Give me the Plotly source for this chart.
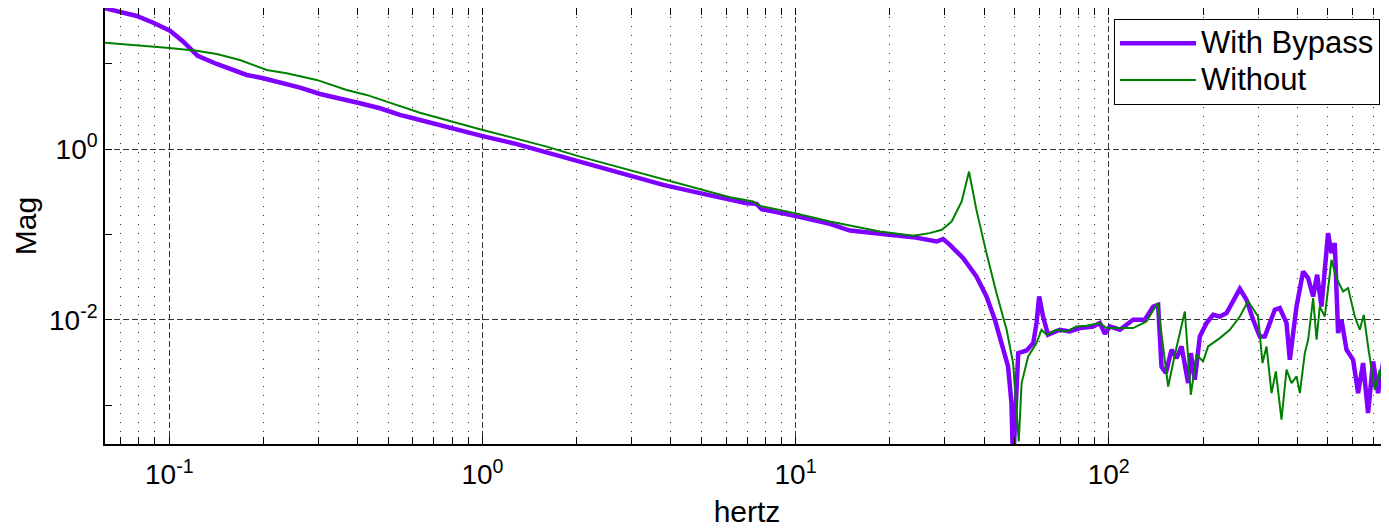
import plotly.graph_objects as go

# ---------------- data ----------------
bypass_freq = [0.0623, 0.0696, 0.0787, 0.0889, 0.1005, 0.1109, 0.1232, 0.1417, 0.1767, 0.1996,
               0.2312, 0.2615, 0.3029, 0.3508, 0.4064, 0.4707, 0.5452, 0.6015, 0.807, 0.994,
               1.254, 1.603, 2.0, 2.616, 3.78, 4.95, 6.98, 7.51, 7.79, 9.95,
               12.87, 14.91, 18.58, 23.74, 28.2, 29.6, 31.1, 34.3, 37.8, 40.7,
               43.3, 45.5, 47.7, 48.9, 49.5, 51.4, 54.7, 57.4, 58.8, 59.95,
               61.7, 64.0, 69.8, 75.1, 80.9, 89.2, 93.7, 97.2, 100.8, 108.5,
               119.7, 130.4, 138.7, 143.8, 147.4, 152.2, 158.7, 164.6, 170.8, 179.3,
               182.9, 188.3, 195.4, 205.3, 215.4, 226.3, 237.8, 262.2, 275.4, 289.1,
               303.7, 315, 326.9, 339.1, 351.8, 369.6, 378.7, 397.8, 417.6, 433.3,
               449.5, 463, 478, 501.7, 514.4, 527, 540, 553.7, 574.5, 603,
               625.6, 649, 673.2, 698.6, 724.6, 751.7, 778.2]
bypass_mag = [44.9, 40.9, 36.5, 30.4, 24.5, 18.2, 12.4, 9.99, 7.42, 6.79,
              5.93, 5.27, 4.44, 3.96, 3.46, 3.02, 2.52, 2.31, 1.716, 1.432,
              1.176, 0.912, 0.716, 0.546, 0.382, 0.305, 0.233, 0.2286, 0.198, 0.1654,
              0.1333, 0.1112, 0.1037, 0.0931, 0.0827, 0.0882, 0.0756, 0.0528, 0.0322, 0.01875,
              0.0100, 0.00533, 0.00284, 0.00106, 0.0002, 0.00407, 0.00437, 0.00533, 0.00915, 0.01875,
              0.01093, 0.00667, 0.00764, 0.00729, 0.00799, 0.00835, 0.00915, 0.00685, 0.00835, 0.00764,
              0.0100, 0.0100, 0.01431, 0.01499, 0.00284, 0.00237, 0.00445, 0.00356, 0.00487, 0.00181,
              0.00407, 0.00198, 0.00637, 0.00915, 0.01144, 0.01093, 0.01198, 0.02307, 0.01715, 0.0100,
              0.00637, 0.00637, 0.00955, 0.0131, 0.0137, 0.00915, 0.0034, 0.01431, 0.0368, 0.0308,
              0.01875, 0.0337, 0.01431, 0.1037, 0.0605, 0.0792, 0.00699, 0.0100, 0.00445, 0.0034,
              0.00138, 0.00311, 0.000807, 0.00325, 0.00138, 0.00311, 0.00356]

without_freq = [0.0623, 0.0768, 0.0981, 0.1223, 0.1417, 0.1681, 0.2046, 0.2370, 0.2955, 0.3685,
                0.4268, 0.4944, 0.6315, 0.9817, 1.254, 1.603, 2.048, 2.958, 4.27, 6.17,
                7.32, 7.69, 9.95, 12.87, 18.58, 23.74, 26.8, 29.3, 31.5, 33.9,
                35.8, 37.8, 40.7, 43.8, 47.2, 49.5, 51.6, 52.7, 55.3, 58.8,
                61.0, 63.3, 68.1, 73.3, 78.9, 84.9, 93.7, 98.4, 108.5, 119.7,
                132.0, 143.2, 154.8, 162.6, 175.0, 182.9, 190.7, 200.1, 207.7, 226.3,
                243.6, 262.2, 278.7, 299.9, 309.8, 319, 331.1, 341.7, 356.2, 369.6,
                383.5, 397.8, 407.6, 422.8, 433.3, 449.5, 461, 472, 489.8, 514.4,
                533.7, 560.3, 581.3, 610.7, 633.4, 652.3, 673.2, 707.4, 733.9, 761.2, 778.2]
without_mag = [17.7, 16.7, 15.5, 14.3, 13.08, 11.1, 8.49, 7.77, 6.49, 4.95,
               4.33, 3.61, 2.68, 1.716, 1.346, 1.073, 0.819, 0.572, 0.392, 0.274,
               0.2432, 0.2166, 0.178, 0.1418, 0.1083, 0.0964, 0.1037, 0.1134, 0.1418, 0.2432,
               0.546, 0.1944, 0.0605, 0.02055, 0.00764, 0.00311, 0.000375, 0.00181, 0.00372, 0.00533,
               0.00764, 0.00667, 0.00764, 0.00729, 0.00835, 0.0085, 0.00915, 0.00799, 0.00799, 0.00799,
               0.00955, 0.0157, 0.00165, 0.00389, 0.01251, 0.00132, 0.00389, 0.00325, 0.00487, 0.0061,
               0.00764, 0.01093, 0.01656, 0.01093, 0.00311, 0.00487, 0.00138, 0.00248, 0.000673, 0.0026,
               0.00181, 0.00217, 0.00138, 0.00407, 0.00583, 0.01796, 0.00583, 0.01431, 0.01093, 0.0505,
               0.0308, 0.02147, 0.0235, 0.01093, 0.00764, 0.01144, 0.00487, 0.00151, 0.0026, 0.00138, 0.00311]

series_names = ["With Bypass", "Without"]

x_major_ticks = [0.1, 1, 10, 100]
x_major_labels = ["10<sup>-1</sup>", "10<sup>0</sup>", "10<sup>1</sup>", "10<sup>2</sup>"]
x_minor_ticks = [0.07, 0.08, 0.09,
                 0.2, 0.3, 0.4, 0.5, 0.6, 0.7, 0.8, 0.9,
                 2, 3, 4, 5, 6, 7, 8, 9,
                 20, 30, 40, 50, 60, 70, 80, 90,
                 200, 300, 400, 500, 600, 700]
y_major_ticks = [0.01, 1]
y_major_labels = ["10<sup>-2</sup>", "10<sup>0</sup>"]
y_minor_ticks = [0.001, 0.1, 10]

FONT = "Liberation Sans, Arial, Helvetica, sans-serif"


def legend_label(s):
    return "<span style='font-size:31px'>" + s + "</span>"


fig = go.Figure()
fig.add_trace(go.Scatter(x=bypass_freq, y=bypass_mag, mode="lines", name=legend_label(series_names[0]),
                         line=dict(color="#8000ff", width=4.5)))
fig.add_trace(go.Scatter(x=without_freq, y=without_mag, mode="lines", name=legend_label(series_names[1]),
                         line=dict(color="#008000", width=2)))

fig.update_layout(
    width=1381, height=521,
    margin=dict(l=97, r=0, t=0, b=85, autoexpand=False),
    paper_bgcolor="white", plot_bgcolor="white",
    font=dict(family=FONT, size=28, color="black"),
    showlegend=True,
    legend=dict(x=0.993, xanchor="right", y=0.975, yanchor="top",
                bgcolor="white", bordercolor="black", borderwidth=1,
                font=dict(family=FONT, size=26, color="black"),
                itemwidth=76, tracegroupgap=0),
    xaxis=dict(
        type="log", range=[-1.2053, 2.895],
        tickmode="array", tickvals=x_major_ticks, ticktext=x_major_labels,
        ticks="inside", ticklen=7, tickwidth=1, tickcolor="black",
        showline=True, linecolor="black", linewidth=1.5, mirror="ticks",
        showgrid=True, gridcolor="#333333", gridwidth=1, griddash="6px,3px",
        zeroline=False, ticklabelstandoff=5,
        minor=dict(tickmode="array", tickvals=x_minor_ticks, ticks="inside", ticklen=7,
                   tickcolor="black", tickwidth=1, showgrid=True, gridcolor="#333333",
                   gridwidth=1, griddash="1px,8px"),
        title=dict(text="hertz", font=dict(family=FONT, size=30, color="black"), standoff=12),
        tickfont=dict(family=FONT, size=28, color="black"),
    ),
    yaxis=dict(
        type="log", range=[-3.4564, 1.6555],
        tickmode="array", tickvals=y_major_ticks, ticktext=y_major_labels,
        ticks="inside", ticklen=7, tickwidth=1, tickcolor="black",
        showline=True, linecolor="black", linewidth=1.5, mirror=False,
        showgrid=True, gridcolor="#333333", gridwidth=1, griddash="6px,3px",
        zeroline=False, ticklabelstandoff=0,
        minor=dict(tickmode="array", tickvals=y_minor_ticks, ticks="inside", ticklen=7,
                   tickcolor="black", tickwidth=1, showgrid=False),
        title=dict(text="Mag", font=dict(family=FONT, size=30, color="black"), standoff=4),
        tickfont=dict(family=FONT, size=28, color="black"),
    ),
)

fig.write_html("out.html")
